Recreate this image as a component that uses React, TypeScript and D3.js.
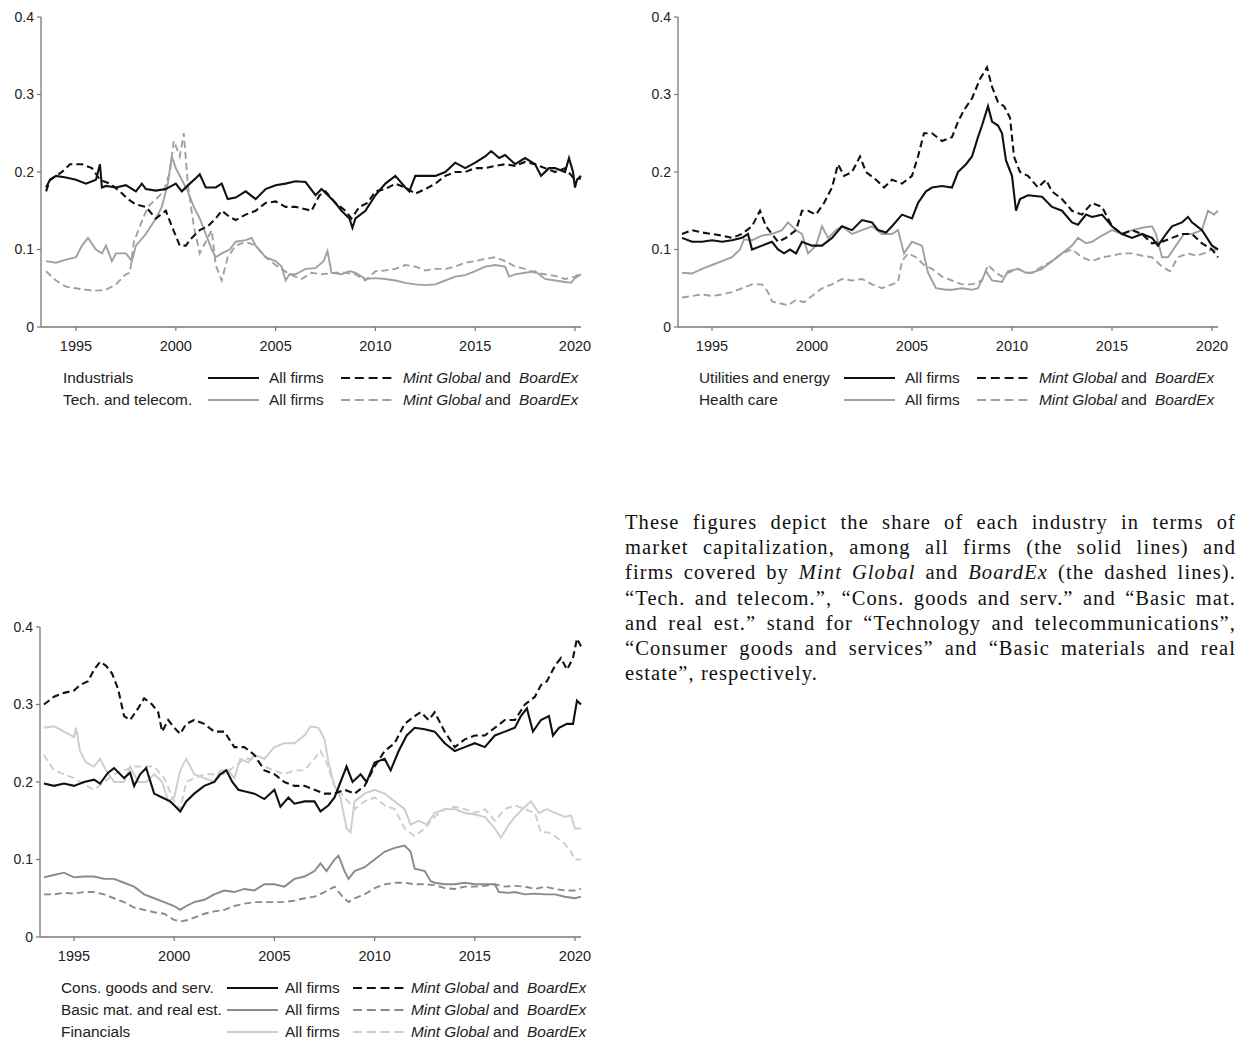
import React, { useEffect, useRef } from "react";
import * as d3 from "d3";

type P = [number, number];

// ---------- Panel 1: Industrials / Tech. and telecom. ----------
const industrialsAll: P[] = [[1993.5,0.18],[1993.7,0.19],[1994,0.195],[1994.5,0.193],[1995,0.19],[1995.5,0.185],[1996,0.19],[1996.2,0.21],[1996.3,0.18],[1996.5,0.182],[1997,0.18],[1997.5,0.183],[1998,0.175],[1998.3,0.185],[1998.5,0.178],[1999,0.176],[1999.5,0.178],[2000,0.185],[2000.3,0.175],[2000.7,0.185],[2001,0.192],[2001.2,0.197],[2001.5,0.18],[2002,0.18],[2002.3,0.185],[2002.6,0.165],[2003,0.167],[2003.5,0.175],[2004,0.165],[2004.5,0.178],[2005,0.183],[2005.5,0.185],[2006,0.188],[2006.5,0.187],[2007,0.17],[2007.3,0.178],[2007.7,0.168],[2008,0.16],[2008.3,0.15],[2008.7,0.14],[2008.85,0.128],[2009,0.14],[2009.5,0.15],[2010,0.17],[2010.5,0.185],[2011,0.195],[2011.5,0.18],[2011.7,0.175],[2012,0.195],[2012.5,0.195],[2013,0.195],[2013.5,0.2],[2014,0.212],[2014.5,0.205],[2015,0.212],[2015.5,0.22],[2015.8,0.227],[2016.2,0.218],[2016.5,0.222],[2017,0.21],[2017.5,0.218],[2018,0.21],[2018.3,0.195],[2018.7,0.205],[2019,0.205],[2019.5,0.2],[2019.7,0.218],[2019.9,0.2],[2020,0.18],[2020.1,0.19],[2020.3,0.195]];
const industrialsMB: P[] = [[1993.5,0.175],[1993.7,0.19],[1994.3,0.2],[1994.7,0.21],[1995.3,0.21],[1995.8,0.205],[1996.2,0.19],[1996.7,0.185],[1997.2,0.175],[1997.6,0.165],[1998,0.158],[1998.5,0.155],[1999,0.14],[1999.5,0.15],[1999.8,0.13],[2000.2,0.105],[2000.5,0.105],[2000.8,0.115],[2001.2,0.125],[2001.6,0.13],[2002,0.14],[2002.3,0.15],[2002.7,0.142],[2003,0.138],[2003.5,0.145],[2004,0.15],[2004.5,0.16],[2005,0.162],[2005.5,0.155],[2006,0.155],[2006.5,0.152],[2006.8,0.15],[2007.2,0.17],[2007.5,0.175],[2008,0.16],[2008.5,0.15],[2008.8,0.14],[2009.2,0.155],[2009.6,0.16],[2010,0.175],[2010.5,0.178],[2011,0.185],[2011.5,0.18],[2012,0.172],[2012.5,0.178],[2013,0.185],[2013.5,0.195],[2014,0.2],[2014.5,0.2],[2015,0.205],[2015.5,0.205],[2016,0.208],[2016.5,0.21],[2017,0.208],[2017.5,0.213],[2018,0.21],[2018.5,0.205],[2019,0.2],[2019.5,0.205],[2020,0.19],[2020.3,0.192]];
const techAll: P[] = [[1993.5,0.085],[1994,0.083],[1994.5,0.087],[1995,0.09],[1995.3,0.105],[1995.6,0.115],[1996,0.1],[1996.3,0.095],[1996.5,0.105],[1996.8,0.085],[1997,0.095],[1997.5,0.095],[1997.8,0.085],[1998,0.105],[1998.5,0.12],[1999,0.14],[1999.3,0.155],[1999.6,0.185],[1999.8,0.22],[2000,0.205],[2000.3,0.19],[2000.6,0.175],[2000.9,0.155],[2001.2,0.14],[2001.5,0.12],[2001.8,0.1],[2002,0.09],[2002.3,0.095],[2002.7,0.1],[2003,0.11],[2003.5,0.112],[2003.8,0.115],[2004,0.105],[2004.5,0.09],[2005,0.085],[2005.3,0.078],[2005.5,0.06],[2005.7,0.068],[2006,0.068],[2006.5,0.075],[2007,0.076],[2007.4,0.085],[2007.6,0.098],[2007.8,0.07],[2008.3,0.068],[2008.7,0.072],[2009,0.07],[2009.5,0.062],[2010,0.063],[2010.5,0.062],[2011,0.06],[2011.5,0.057],[2012,0.055],[2012.5,0.054],[2013,0.055],[2013.5,0.06],[2014,0.065],[2014.5,0.067],[2015,0.072],[2015.5,0.078],[2016,0.08],[2016.5,0.078],[2016.7,0.065],[2017,0.068],[2017.5,0.07],[2018,0.072],[2018.5,0.062],[2019,0.06],[2019.5,0.058],[2019.8,0.057],[2020,0.063],[2020.3,0.068]];
const techMB: P[] = [[1993.5,0.072],[1994,0.06],[1994.5,0.052],[1995,0.05],[1995.5,0.048],[1996,0.047],[1996.5,0.048],[1997,0.055],[1997.5,0.068],[1997.7,0.07],[1997.9,0.11],[1998.2,0.13],[1998.6,0.155],[1999,0.165],[1999.4,0.175],[1999.7,0.2],[1999.9,0.24],[2000.2,0.22],[2000.4,0.25],[2000.6,0.185],[2000.9,0.13],[2001.2,0.095],[2001.5,0.11],[2001.8,0.125],[2002,0.08],[2002.3,0.06],[2002.6,0.09],[2003,0.105],[2003.5,0.11],[2004,0.105],[2004.5,0.09],[2005,0.08],[2005.3,0.075],[2005.7,0.068],[2006.3,0.062],[2006.8,0.07],[2007.3,0.068],[2008,0.07],[2008.5,0.07],[2009,0.068],[2009.5,0.06],[2010,0.072],[2010.5,0.073],[2011,0.075],[2011.5,0.08],[2012,0.078],[2012.5,0.073],[2013,0.075],[2013.5,0.075],[2014,0.078],[2014.5,0.083],[2015,0.085],[2015.5,0.088],[2016,0.09],[2016.5,0.085],[2017,0.078],[2017.5,0.075],[2018,0.07],[2018.5,0.068],[2019,0.066],[2019.5,0.062],[2020,0.065],[2020.3,0.07]];

// ---------- Panel 2: Utilities and energy / Health care ----------
const utilitiesAll: P[] = [[1993.5,0.115],[1994,0.11],[1994.5,0.11],[1995,0.112],[1995.5,0.11],[1996,0.112],[1996.5,0.115],[1996.8,0.12],[1997,0.1],[1997.5,0.105],[1998,0.11],[1998.3,0.1],[1998.6,0.095],[1998.9,0.1],[1999.2,0.095],[1999.5,0.11],[2000,0.105],[2000.5,0.105],[2001,0.115],[2001.5,0.13],[2002,0.125],[2002.5,0.138],[2003,0.135],[2003.3,0.125],[2003.7,0.122],[2004,0.13],[2004.5,0.145],[2005,0.14],[2005.3,0.16],[2005.7,0.175],[2006,0.18],[2006.5,0.182],[2007,0.18],[2007.3,0.2],[2007.7,0.21],[2008,0.22],[2008.3,0.245],[2008.5,0.26],[2008.8,0.285],[2009,0.265],[2009.3,0.26],[2009.5,0.25],[2009.7,0.215],[2010,0.195],[2010.2,0.15],[2010.4,0.165],[2010.8,0.17],[2011.5,0.168],[2012,0.155],[2012.5,0.15],[2013,0.135],[2013.3,0.132],[2013.7,0.145],[2014,0.142],[2014.5,0.145],[2015,0.13],[2015.5,0.12],[2016,0.115],[2016.5,0.12],[2017,0.115],[2017.3,0.105],[2017.7,0.12],[2018,0.13],[2018.5,0.135],[2018.8,0.142],[2019,0.135],[2019.5,0.125],[2020,0.105],[2020.3,0.1]];
const utilitiesMB: P[] = [[1993.5,0.12],[1994,0.125],[1994.5,0.122],[1995,0.12],[1995.5,0.118],[1996,0.115],[1996.5,0.12],[1997,0.13],[1997.4,0.15],[1997.7,0.13],[1998,0.12],[1998.3,0.11],[1998.7,0.115],[1999.2,0.125],[1999.5,0.15],[1999.8,0.15],[2000.2,0.145],[2000.6,0.16],[2001,0.18],[2001.3,0.21],[2001.6,0.195],[2002,0.2],[2002.4,0.22],[2002.7,0.2],[2003.2,0.19],[2003.6,0.18],[2004,0.19],[2004.5,0.185],[2005,0.195],[2005.3,0.22],[2005.6,0.25],[2006,0.25],[2006.5,0.24],[2007,0.245],[2007.3,0.265],[2007.6,0.28],[2008,0.295],[2008.4,0.32],[2008.75,0.335],[2009,0.31],[2009.3,0.29],[2009.6,0.285],[2009.9,0.27],[2010.1,0.22],[2010.4,0.2],[2010.8,0.195],[2011.3,0.18],[2011.7,0.19],[2012,0.175],[2012.5,0.165],[2013,0.15],[2013.5,0.145],[2014,0.16],[2014.5,0.155],[2015,0.13],[2015.5,0.12],[2016,0.125],[2016.5,0.12],[2017,0.108],[2017.5,0.11],[2018,0.115],[2018.5,0.12],[2019,0.12],[2019.5,0.108],[2020,0.1],[2020.3,0.09]];
const healthAll: P[] = [[1993.5,0.07],[1994,0.069],[1994.5,0.075],[1995,0.08],[1995.5,0.085],[1996,0.09],[1996.4,0.1],[1996.6,0.113],[1997,0.112],[1997.5,0.118],[1998,0.12],[1998.5,0.125],[1998.8,0.135],[1999.2,0.125],[1999.5,0.12],[1999.8,0.095],[2000.2,0.105],[2000.5,0.13],[2000.8,0.115],[2001.2,0.125],[2001.5,0.13],[2002,0.12],[2002.5,0.125],[2003,0.13],[2003.5,0.12],[2004,0.12],[2004.3,0.125],[2004.6,0.095],[2005,0.11],[2005.5,0.105],[2005.8,0.07],[2006.2,0.05],[2006.7,0.048],[2007,0.048],[2007.5,0.05],[2008,0.048],[2008.3,0.05],[2008.7,0.072],[2009,0.06],[2009.5,0.058],[2009.8,0.072],[2010.3,0.075],[2010.7,0.07],[2011,0.07],[2011.5,0.075],[2012,0.085],[2012.5,0.095],[2013,0.105],[2013.3,0.115],[2013.7,0.108],[2014,0.11],[2014.5,0.118],[2015,0.125],[2015.5,0.12],[2016,0.125],[2016.5,0.128],[2017,0.13],[2017.2,0.12],[2017.5,0.09],[2017.8,0.09],[2018.2,0.105],[2018.6,0.12],[2019,0.12],[2019.5,0.125],[2019.8,0.15],[2020.1,0.145],[2020.3,0.15]];
const healthMB: P[] = [[1993.5,0.038],[1994,0.04],[1994.5,0.042],[1995,0.04],[1995.5,0.042],[1996,0.045],[1996.5,0.05],[1997,0.055],[1997.5,0.055],[1997.8,0.045],[1998,0.033],[1998.5,0.03],[1998.8,0.028],[1999.2,0.035],[1999.6,0.032],[2000,0.04],[2000.5,0.05],[2001,0.055],[2001.5,0.062],[2002,0.06],[2002.5,0.062],[2003,0.055],[2003.5,0.05],[2004,0.055],[2004.3,0.058],[2004.5,0.085],[2004.8,0.095],[2005.2,0.09],[2005.6,0.08],[2006,0.075],[2006.5,0.065],[2007,0.06],[2007.5,0.055],[2008,0.055],[2008.5,0.06],[2008.8,0.08],[2009.2,0.07],[2009.5,0.065],[2009.8,0.07],[2010.3,0.075],[2010.7,0.07],[2011,0.07],[2011.5,0.078],[2012,0.085],[2012.5,0.095],[2013,0.1],[2013.5,0.09],[2014,0.085],[2014.5,0.09],[2015,0.092],[2015.5,0.095],[2016,0.095],[2016.5,0.092],[2017,0.09],[2017.5,0.078],[2017.9,0.072],[2018.3,0.09],[2018.8,0.095],[2019.2,0.092],[2019.6,0.095],[2020,0.1],[2020.3,0.098]];

// ---------- Panel 3: Cons. goods / Basic mat. / Financials ----------
const consAll: P[] = [[1993.5,0.198],[1994,0.195],[1994.5,0.198],[1995,0.195],[1995.5,0.2],[1996,0.203],[1996.3,0.198],[1996.7,0.212],[1997,0.218],[1997.5,0.205],[1997.8,0.212],[1998,0.195],[1998.3,0.21],[1998.6,0.218],[1999,0.185],[1999.4,0.18],[1999.8,0.175],[2000,0.17],[2000.3,0.162],[2000.6,0.175],[2001,0.185],[2001.5,0.195],[2002,0.2],[2002.3,0.21],[2002.6,0.215],[2002.9,0.2],[2003.2,0.19],[2003.5,0.188],[2004,0.185],[2004.5,0.178],[2005,0.19],[2005.3,0.168],[2005.7,0.18],[2006,0.172],[2006.5,0.175],[2007,0.175],[2007.3,0.162],[2007.7,0.17],[2008,0.18],[2008.3,0.2],[2008.6,0.22],[2008.9,0.2],[2009.3,0.21],[2009.6,0.2],[2010,0.225],[2010.5,0.23],[2010.8,0.215],[2011.2,0.24],[2011.6,0.26],[2012,0.27],[2012.5,0.268],[2013,0.265],[2013.5,0.25],[2014,0.24],[2014.5,0.245],[2015,0.25],[2015.5,0.245],[2016,0.26],[2016.5,0.265],[2017,0.27],[2017.3,0.285],[2017.6,0.295],[2017.9,0.265],[2018.3,0.28],[2018.7,0.285],[2018.9,0.26],[2019.2,0.27],[2019.6,0.275],[2019.9,0.275],[2020.1,0.305],[2020.3,0.3]];
const consMB: P[] = [[1993.5,0.3],[1994,0.31],[1994.5,0.315],[1995,0.318],[1995.3,0.325],[1995.7,0.33],[1996,0.345],[1996.3,0.355],[1996.6,0.35],[1996.9,0.34],[1997.2,0.32],[1997.5,0.285],[1997.8,0.28],[1998.2,0.295],[1998.5,0.308],[1998.9,0.3],[1999.2,0.29],[1999.4,0.265],[1999.7,0.28],[2000,0.27],[2000.3,0.262],[2000.6,0.275],[2001,0.28],[2001.5,0.275],[2002,0.265],[2002.5,0.265],[2003,0.245],[2003.5,0.245],[2004,0.235],[2004.5,0.215],[2005,0.21],[2005.5,0.2],[2006,0.195],[2006.5,0.195],[2007,0.19],[2007.5,0.185],[2008,0.185],[2008.5,0.19],[2009,0.185],[2009.5,0.195],[2010,0.22],[2010.5,0.24],[2011,0.25],[2011.5,0.275],[2012,0.285],[2012.3,0.29],[2012.7,0.28],[2013,0.29],[2013.5,0.265],[2014,0.245],[2014.5,0.255],[2015,0.26],[2015.5,0.26],[2016,0.27],[2016.5,0.28],[2017,0.28],[2017.5,0.3],[2018,0.31],[2018.3,0.325],[2018.6,0.33],[2019,0.35],[2019.3,0.36],[2019.6,0.345],[2019.9,0.36],[2020.1,0.385],[2020.3,0.375]];
const basicAll: P[] = [[1993.5,0.077],[1994,0.08],[1994.5,0.083],[1995,0.077],[1995.5,0.078],[1996,0.078],[1996.5,0.075],[1997,0.075],[1997.5,0.07],[1998,0.065],[1998.5,0.055],[1999,0.05],[1999.5,0.045],[2000,0.04],[2000.3,0.035],[2000.6,0.04],[2001,0.045],[2001.5,0.048],[2002,0.055],[2002.5,0.06],[2003,0.058],[2003.5,0.062],[2004,0.06],[2004.5,0.068],[2005,0.068],[2005.5,0.065],[2006,0.075],[2006.5,0.078],[2007,0.085],[2007.3,0.095],[2007.6,0.085],[2008,0.1],[2008.2,0.105],[2008.5,0.085],[2008.7,0.075],[2009,0.085],[2009.5,0.09],[2010,0.1],[2010.5,0.11],[2011,0.115],[2011.5,0.118],[2011.8,0.11],[2012,0.088],[2012.5,0.085],[2012.8,0.072],[2013,0.07],[2013.5,0.068],[2014,0.068],[2014.5,0.07],[2015,0.068],[2015.5,0.068],[2016,0.068],[2016.2,0.058],[2016.7,0.057],[2017,0.058],[2017.5,0.055],[2018,0.056],[2018.5,0.055],[2019,0.055],[2019.5,0.052],[2020,0.05],[2020.3,0.052]];
const basicMB: P[] = [[1993.5,0.055],[1994,0.055],[1994.5,0.057],[1995,0.056],[1995.5,0.058],[1996,0.058],[1996.5,0.055],[1997,0.05],[1997.5,0.045],[1998,0.038],[1998.5,0.035],[1999,0.032],[1999.5,0.03],[2000,0.022],[2000.3,0.02],[2000.7,0.022],[2001,0.025],[2001.5,0.03],[2002,0.033],[2002.5,0.035],[2003,0.04],[2003.5,0.043],[2004,0.045],[2004.5,0.045],[2005,0.045],[2005.5,0.045],[2006,0.047],[2006.5,0.05],[2007,0.052],[2007.5,0.058],[2008,0.065],[2008.4,0.052],[2008.7,0.045],[2009,0.05],[2009.5,0.055],[2010,0.063],[2010.5,0.068],[2011,0.07],[2011.5,0.07],[2012,0.068],[2012.5,0.068],[2013,0.067],[2013.5,0.063],[2014,0.062],[2014.5,0.065],[2015,0.065],[2015.5,0.066],[2016,0.068],[2016.5,0.065],[2017,0.066],[2017.5,0.065],[2018,0.062],[2018.5,0.065],[2019,0.062],[2019.5,0.06],[2020,0.06],[2020.3,0.062]];
const finAll: P[] = [[1993.5,0.27],[1994,0.272],[1994.5,0.265],[1995,0.258],[1995.1,0.27],[1995.3,0.24],[1995.6,0.225],[1996,0.22],[1996.3,0.23],[1996.6,0.215],[1997,0.2],[1997.5,0.2],[1997.8,0.22],[1998.2,0.2],[1998.6,0.2],[1999,0.21],[1999.4,0.2],[1999.7,0.175],[2000,0.18],[2000.3,0.215],[2000.6,0.23],[2001,0.21],[2001.5,0.205],[2002,0.2],[2002.3,0.215],[2002.7,0.215],[2003,0.205],[2003.3,0.23],[2003.7,0.225],[2004,0.235],[2004.5,0.23],[2005,0.245],[2005.5,0.25],[2006,0.25],[2006.5,0.26],[2006.8,0.272],[2007.2,0.27],[2007.5,0.255],[2007.7,0.225],[2008,0.195],[2008.3,0.18],[2008.6,0.14],[2008.8,0.135],[2009,0.175],[2009.5,0.185],[2010,0.19],[2010.5,0.185],[2011,0.175],[2011.5,0.165],[2011.8,0.145],[2012.2,0.15],[2012.6,0.145],[2013,0.16],[2013.5,0.165],[2014,0.165],[2014.5,0.16],[2015,0.158],[2015.5,0.155],[2016,0.14],[2016.3,0.128],[2016.7,0.145],[2017,0.155],[2017.5,0.168],[2017.8,0.175],[2018.2,0.16],[2018.6,0.165],[2019,0.16],[2019.5,0.155],[2019.8,0.157],[2020,0.14],[2020.3,0.14]];
const finMB: P[] = [[1993.5,0.235],[1994,0.215],[1994.5,0.21],[1995,0.205],[1995.5,0.197],[1996,0.19],[1996.5,0.2],[1997,0.21],[1997.5,0.215],[1998,0.22],[1998.5,0.22],[1999,0.22],[1999.5,0.205],[2000,0.175],[2000.3,0.165],[2000.6,0.2],[2001,0.205],[2001.5,0.21],[2002,0.21],[2002.5,0.21],[2003,0.22],[2003.5,0.23],[2004,0.23],[2004.5,0.22],[2005,0.215],[2005.5,0.21],[2006,0.215],[2006.5,0.215],[2007,0.23],[2007.3,0.24],[2007.6,0.225],[2008,0.195],[2008.5,0.18],[2009,0.165],[2009.5,0.175],[2010,0.18],[2010.5,0.17],[2011,0.165],[2011.5,0.14],[2012,0.13],[2012.5,0.14],[2013,0.155],[2013.5,0.165],[2014,0.168],[2014.5,0.165],[2015,0.16],[2015.5,0.165],[2016,0.15],[2016.5,0.165],[2017,0.17],[2017.5,0.165],[2018,0.16],[2018.3,0.135],[2018.7,0.135],[2019,0.13],[2019.5,0.12],[2019.8,0.11],[2020,0.1],[2020.3,0.1]];

const yearTicks = [1995, 2000, 2005, 2010, 2015, 2020];
const valueTicks = [0, 0.1, 0.2, 0.3, 0.4];
const valueTickLabels = ["0", "0.1", "0.2", "0.3", "0.4"];

const caption = [
  "These figures depict the share of each industry in terms of",
  "market capitalization, among all firms (the solid lines) and",
  "firms covered by |Mint Global| and |BoardEx| (the dashed lines).",
  "\u201CTech. and telecom.\u201D, \u201CCons. goods and serv.\u201D and \u201CBasic mat.",
  "and real est.\u201D stand for \u201CTechnology and telecommunications\u201D,",
  "\u201CConsumer goods and services\u201D and \u201CBasic materials and real",
  "estate\u201D, respectively.",
];

const BLACK = "#111";
const GRAY = "#a0a0a0";
const MIDGRAY = "#8a8a8a";
const LIGHT = "#cdcdcd";

type Series = { name: string; all: P[]; mb: P[]; color: string };

type PanelDef = {
  axisX: number; x1995: number; x2020: number; right: number;
  yTop: number; yBottom: number;
  legendY: number; legendLabelX: number; lineX: number; allX: number; dashX: number; mgX: number;
  series: Series[];
};

const panels: PanelDef[] = [
  { axisX: 41, x1995: 76, x2020: 575, right: 581, yTop: 17, yBottom: 327,
    legendY: 383, legendLabelX: 63, lineX: 208, allX: 269, dashX: 341, mgX: 403,
    series: [
      { name: "Industrials", all: industrialsAll, mb: industrialsMB, color: BLACK },
      { name: "Tech. and telecom.", all: techAll, mb: techMB, color: GRAY },
    ] },
  { axisX: 678, x1995: 712, x2020: 1212, right: 1218, yTop: 17, yBottom: 327,
    legendY: 383, legendLabelX: 699, lineX: 844, allX: 905, dashX: 977, mgX: 1039,
    series: [
      { name: "Utilities and energy", all: utilitiesAll, mb: utilitiesMB, color: BLACK },
      { name: "Health care", all: healthAll, mb: healthMB, color: GRAY },
    ] },
  { axisX: 40, x1995: 74, x2020: 575, right: 581, yTop: 627, yBottom: 937,
    legendY: 993, legendLabelX: 61, lineX: 227, allX: 285, dashX: 353, mgX: 411,
    series: [
      { name: "Cons. goods and serv.", all: consAll, mb: consMB, color: BLACK },
      { name: "Basic mat. and real est.", all: basicAll, mb: basicMB, color: MIDGRAY },
      { name: "Financials", all: finAll, mb: finMB, color: LIGHT },
    ] },
];

const SANS = "'Liberation Sans', Arial, sans-serif";
const AXIS = "#777";

function Panel({ p }: { p: PanelDef }) {
  const x = d3.scaleLinear().domain([1995, 2020]).range([p.x1995, p.x2020]);
  const y = d3.scaleLinear().domain([0, 0.4]).range([p.yBottom, p.yTop]);
  const line = d3.line<P>().x((d) => x(d[0])).y((d) => y(d[1]));
  const order = [...p.series].reverse();
  return (
    <g>
      {order.map((s, i) => (
        <g key={i}>
          <path d={line(s.mb) || ""} fill="none" stroke={s.color} strokeWidth={s.color === BLACK ? 2.1 : 1.9} strokeDasharray="7,4" />
          <path d={line(s.all) || ""} fill="none" stroke={s.color} strokeWidth={s.color === BLACK ? 2.1 : 1.9} />
        </g>
      ))}
      <line x1={p.axisX} x2={p.axisX} y1={p.yTop} y2={p.yBottom} stroke={AXIS} strokeWidth={1.3} />
      <line x1={p.axisX} x2={p.right} y1={p.yBottom} y2={p.yBottom} stroke={AXIS} strokeWidth={1.3} />
      {valueTicks.map((v, i) => (
        <g key={"v" + i}>
          <line x1={p.axisX - 4} x2={p.axisX} y1={y(v)} y2={y(v)} stroke={AXIS} strokeWidth={1.2} />
          <text x={p.axisX - 7} y={y(v)} dy="0.35em" textAnchor="end" fontFamily={SANS} fontSize={14} fill="#222">{valueTickLabels[i]}</text>
        </g>
      ))}
      {yearTicks.map((t) => (
        <g key={"t" + t}>
          <line x1={x(t)} x2={x(t)} y1={p.yBottom} y2={p.yBottom + 4} stroke={AXIS} strokeWidth={1.2} />
          <text x={x(t)} y={p.yBottom + 19} dy="0.35em" textAnchor="middle" fontFamily={SANS} fontSize={14.5} fill="#222">{t}</text>
        </g>
      ))}
      {p.series.map((s, i) => {
        const ly = p.legendY + i * 22;
        const lw = s.color === BLACK ? 2.1 : 1.9;
        return (
          <g key={"l" + i} fontFamily={SANS} fontSize={15.4} fill="#222">
            <text x={p.legendLabelX} y={ly}>{s.name}</text>
            <line x1={p.lineX} x2={p.lineX + 51} y1={ly - 5} y2={ly - 5} stroke={s.color} strokeWidth={lw} />
            <text x={p.allX} y={ly}>All firms</text>
            <line x1={p.dashX} x2={p.dashX + 51} y1={ly - 5} y2={ly - 5} stroke={s.color} strokeWidth={lw} strokeDasharray="9,4.8" />
            <text x={p.mgX} y={ly}>
              <tspan fontStyle="italic">Mint Global</tspan>
              <tspan> and </tspan>
              <tspan dx={4} fontStyle="italic">BoardEx</tspan>
            </text>
          </g>
        );
      })}
    </g>
  );
}

function Caption() {
  const ref = useRef<SVGGElement>(null);
  const left = 625;
  const width = 611;
  useEffect(() => {
    if (!ref.current) return;
    const texts = d3.select(ref.current).selectAll<SVGTextElement, unknown>("text.just");
    texts.each(function () {
      const el = this as SVGTextElement;
      el.setAttribute("word-spacing", "0");
      const len = el.getComputedTextLength();
      const content = el.textContent || "";
      const spaces = (content.match(/ /g) || []).length;
      if (spaces > 0) el.setAttribute("word-spacing", String((width - len) / spaces));
    });
  }, []);
  return (
    <g ref={ref} fontFamily="'Liberation Serif', 'Times New Roman', serif" fontSize={20.5} letterSpacing={1.1} fill="#111">
      {caption.map((ln, i) => {
        const parts = ln.split("|");
        const last = i === caption.length - 1;
        return (
          <text key={i} className={last ? "" : "just"} x={left} y={529 + i * 25.2}>
            {parts.map((pt, j) => (
              <tspan key={j} fontStyle={j % 2 === 1 ? "italic" : "normal"}>{pt}</tspan>
            ))}
          </text>
        );
      })}
    </g>
  );
}

export default function App() {
  return (
    <svg width={1239} height={1045} style={{ position: "absolute", left: 0, top: 0, background: "#fff" }}>
      <rect width={1239} height={1045} fill="#fff" />
      {panels.map((p, i) => <Panel key={i} p={p} />)}
      <Caption />
    </svg>
  );
}
